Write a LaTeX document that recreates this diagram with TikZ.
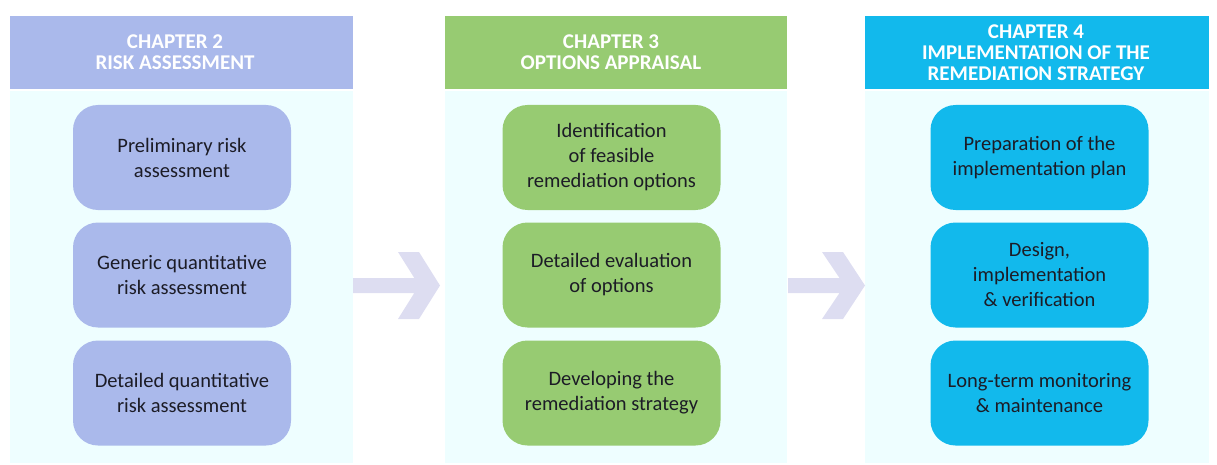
\documentclass[tikz,border=0pt]{standalone}
\usepackage{fontspec}
\setmainfont{Carlito}

\definecolor{bodyc}{HTML}{EEFEFF}
\definecolor{riskc}{HTML}{AAB9EB}
\definecolor{optc}{HTML}{97CB72}
\definecolor{implc}{HTML}{12B9EC}
\definecolor{arrowc}{HTML}{DDDDF1}
\definecolor{boxtext}{HTML}{1C1C26}

\begin{document}
\begin{tikzpicture}[x=1pt,y=-1pt,
  panel/.style={fill=bodyc, minimum width=#1, minimum height=372pt, inner sep=0pt, anchor=north west},
  headbar/.style={minimum width=#1, minimum height=73pt, inner sep=0pt, anchor=north west},
  headtxt/.style={text=white, font=\fontsize{21}{21}\selectfont\bfseries, align=center, inner sep=0pt},
  stepbox/.style={rounded corners=25pt, minimum width=218pt, minimum height=105pt, inner sep=0pt,
                  font=\fontsize{20.5}{25}\selectfont, text=boxtext, align=center},
  flow/.style={fill=arrowc}
]
\useasboundingbox (0,0) rectangle (1217,465);

% column backgrounds
\node[panel=343pt] (p1) at (10,91) {};
\node[panel=342pt] (p2) at (445,91) {};
\node[panel=344pt] (p3) at (865,91) {};

% column headers
\node[headbar=343pt, fill=riskc] (h1) at (10,16) {};
\node[headbar=342pt, fill=optc]  (h2) at (445,16) {};
\node[headbar=344pt, fill=implc] (h3) at (865,16) {};
\node[headtxt] (h1t) at (175,52.5) {CHAPTER 2\\RISK ASSESSMENT};
\node[headtxt] (h2t) at (611,52.5) {CHAPTER 3\\OPTIONS APPRAISAL};
\node[headtxt] (h3t) at (1036,52.5) {CHAPTER 4\\IMPLEMENTATION OF THE\\REMEDIATION STRATEGY};

% chapter 2 steps
\node[stepbox, fill=riskc] (r1) at (182,157.5) {Preliminary risk\\assessment};
\node[stepbox, fill=riskc] (r2) at (182,275) {Generic quantitative\\risk assessment};
\node[stepbox, fill=riskc] (r3) at (182,393) {Detailed quantitative\\risk assessment};

% chapter 3 steps
\node[stepbox, fill=optc] (o1) at (611.5,157.5) {Identification\\of feasible\\remediation options};
\node[stepbox, fill=optc] (o2) at (611.5,275) {Detailed evaluation\\of options};
\node[stepbox, fill=optc] (o3) at (611.5,393) {Developing the\\remediation strategy};

% chapter 4 steps
\node[stepbox, fill=implc] (i1) at (1039.5,157.5) {Preparation of the\\implementation plan};
\node[stepbox, fill=implc] (i2) at (1039.5,275) {Design,\\implementation\\\& verification};
\node[stepbox, fill=implc] (i3) at (1039.5,393) {Long-term monitoring\\\& maintenance};

% block arrows between the chapters
\fill[flow] (353,278) -- (414.3,278) -- (398,252) -- (419,252) -- (440,285.5)
  -- (419,319) -- (398,319) -- (414.3,293) -- (353,293) -- cycle;
\fill[flow] (788,278) -- (839.5,278) -- (822,252) -- (843,252) -- (865,285.5)
  -- (843,319) -- (822,319) -- (839.5,293) -- (788,293) -- cycle;
\end{tikzpicture}
\end{document}
